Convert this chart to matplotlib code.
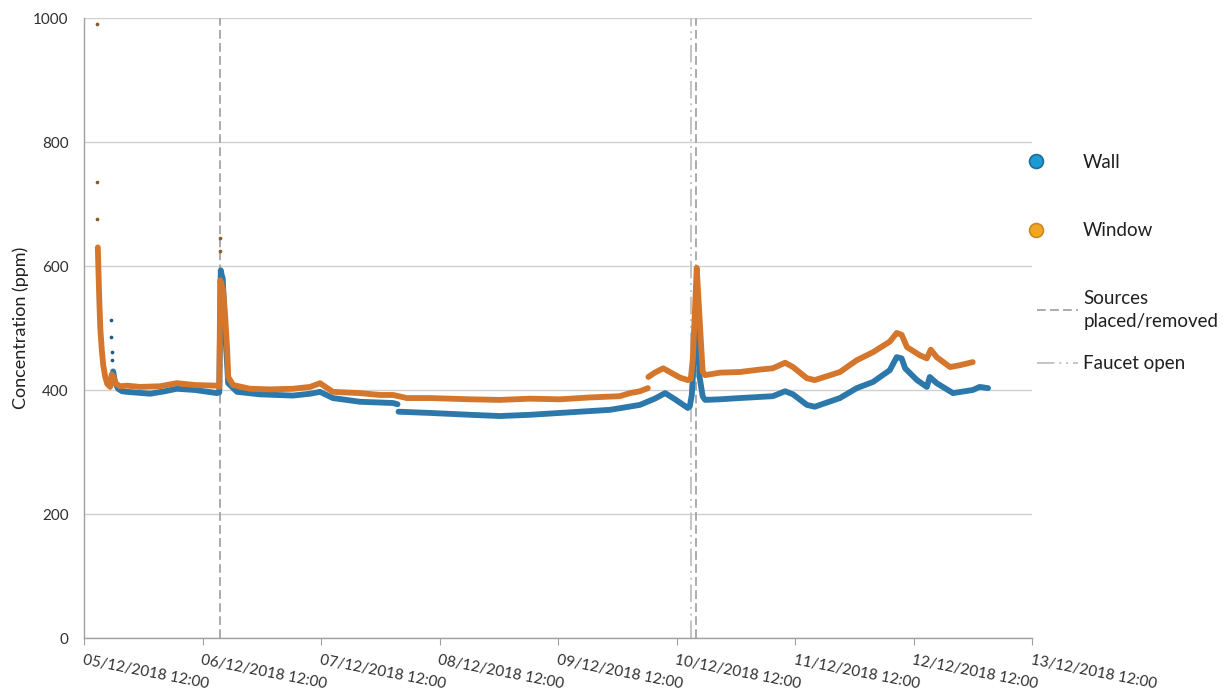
import numpy as np
import pandas as pd
import matplotlib
matplotlib.use("Agg")
import matplotlib.pyplot as plt
import matplotlib.dates as mdates
from matplotlib.lines import Line2D

plt.rcParams["font.family"] = ["Lato", "DejaVu Sans"]

START = pd.Timestamp("2018-12-05 12:00")

# Wall sensor: hours since start, concentration (ppm); NaN marks a logging gap
wall_hours = [5.9, 6.3, 6.9, 7.7, 8.7, 13.4, 16.4, 18.8, 22.5, 26.9, 27.4,
              27.7, 27.9, 28.1, 28.6, 29.0, 29.2, 31.0, 35.6, 42.3, 45.8,
              47.8, 50.4, 55.9, 62.6, 63.5, 63.6, 63.7, 70.1, 78.2, 84.2,
              90.3, 96.4, 106.5, 112.6, 115.6, 117.7, 119.7, 122.3, 122.7,
              123.1, 123.3, 123.7, 124.1, 124.3, 124.7, 125.3, 125.8, 128.8,
              132.8, 139.5, 142.0, 143.6, 146.4, 148.0, 153.1, 156.5, 159.8,
              163.2, 164.6, 165.6, 166.3, 168.7, 170.7, 171.3, 172.7, 176.0,
              180.0, 181.4, 183.1]
wall_ppm = [430, 412, 402, 398, 397, 394, 398, 402, 400, 395, 396,
            593, 585, 580, 492, 440, 411, 397, 393, 391, 394,
            397, 387, 381, 379, 377, np.nan, 365, 363, 360, 358,
            360, 363, 368, 376, 386, 395, 385, 371, 374,
            392, 420, 500, 545, 500, 420, 390, 384, 385,
            387, 390, 398, 393, 376, 373, 387, 403, 413,
            432, 453, 451, 435, 416, 405, 421, 411, 395,
            400, 405, 403]
# isolated readings during fast rises
wall_dot_hours = [5.5, 5.5, 5.6, 5.6, 27.5, 27.5, 27.5, 27.5]
wall_dot_ppm = [513, 485, 461, 448, 415, 440, 465, 490]

# Window sensor
window_hours = [2.8, 2.9, 3.1, 3.3, 3.6, 3.9, 4.3, 4.7, 5.3, 5.6, 5.9, 6.5,
                7.3, 8.7, 11.3, 15.4, 18.8, 22.5, 26.9, 27.4, 27.6, 28.2,
                28.6, 29.0, 29.2, 30.2, 33.6, 37.7, 42.3, 45.8, 47.8, 50.4,
                55.9, 59.9, 62.6, 65.4, 70.1, 78.2, 84.2, 90.3, 96.4, 102.5,
                108.5, 110.6, 112.6, 114.2, 114.25, 114.3, 115.6, 117.3, 119.1,
                120.7, 122.3, 122.9, 123.3, 123.7, 124.1, 124.5, 125.0, 125.3,
                125.8, 128.8, 132.8, 136.9, 139.5, 142.0, 143.6, 146.4, 148.0,
                153.1, 156.5, 159.8, 163.2, 164.6, 165.6, 166.7, 169.3, 170.7,
                171.5, 172.7, 175.4, 177.4, 180.0]
window_ppm = [630, 600, 545, 500, 465, 440, 421, 410, 405, 425, 422, 410,
              406, 407, 405, 406, 411, 408, 407, 405, 577, 560,
              518, 465, 421, 408, 402, 401, 402, 405, 411, 397,
              395, 392, 392, 387, 387, 385, 384, 386, 385, 388,
              390, 395, 398, 403, np.nan, 421, 428, 435, 427,
              420, 416, 418, 450, 520, 597, 540, 470, 430,
              424, 428, 429, 433, 435, 444, 437, 419, 416,
              429, 448, 461, 478, 492, 489, 469, 456, 451,
              465, 453, 437, 440, 445]
window_dot_hours = [2.6, 2.7, 2.7, 27.5, 27.6]
window_dot_ppm = [990, 735, 676, 645, 625]

# Event markers (hours since start)
source_hours = [27.5, 124.05]
faucet_hours = [122.9]

tick_start = "2018-12-05 12:00"
tick_end = "2018-12-13 12:00"


def to_time(hours):
    return START + pd.to_timedelta(np.asarray(hours, dtype=float), unit="h")


WALL_C = "#2c78ab"
WINDOW_C = "#d4772c"
EVENT_C = "#ababab"
FAUCET_C = "#c4c4c4"
SRC_DASH = (4.5, 2.2)
FAUCET_DASH = (9, 2.5, 1, 2.5, 1, 2.5)

fig = plt.figure(figsize=(12.27, 6.95), dpi=100)
ax = fig.add_axes([84 / 1227, 1 - 638 / 695, (1032 - 84) / 1227, (638 - 18) / 695])

ax.set_ylim(0, 1000)
ax.set_xlim(pd.Timestamp(tick_start), pd.Timestamp(tick_end))
ax.set_yticks([0, 200, 400, 600, 800, 1000])
ax.yaxis.grid(True, color="#d0d0d0", lw=1.0)
ax.set_axisbelow(True)

for h in source_hours:
    ax.axvline(to_time([h])[0], color=EVENT_C, lw=1.4, dashes=SRC_DASH, zorder=1)
for h in faucet_hours:
    ax.axvline(to_time([h])[0], color=FAUCET_C, lw=1.4, dashes=FAUCET_DASH, zorder=1)

ax.plot(to_time(wall_hours), wall_ppm, color=WALL_C, lw=4.2,
        solid_joinstyle="round", solid_capstyle="round", zorder=3)
ax.scatter(to_time(wall_dot_hours), wall_dot_ppm, s=7, color="#1f5a85", zorder=3, lw=0)
ax.plot(to_time(window_hours), window_ppm, color=WINDOW_C, lw=4.2,
        solid_joinstyle="round", solid_capstyle="round", zorder=4)
ax.scatter(to_time(window_dot_hours), window_dot_ppm, s=7, color="#8a5a2a", zorder=4, lw=0)

ax.xaxis.set_major_locator(mdates.HourLocator(byhour=[12]))
ax.xaxis.set_major_formatter(mdates.DateFormatter("%d/%m/%Y %H:%M"))
for lbl in ax.get_xticklabels():
    lbl.set_rotation(-11)
    lbl.set_ha("left")
    lbl.set_va("top")
    lbl.set_rotation_mode("anchor")
    lbl.set_fontsize(11)
    lbl.set_color("#303030")

ax.tick_params(axis="x", length=5, color="#a0a0a0", pad=6)
ax.tick_params(axis="y", length=0, labelsize=11, labelcolor="#303030", pad=11)

for side in ("top", "right"):
    ax.spines[side].set_visible(False)
for side in ("left", "bottom"):
    ax.spines[side].set_color("#a0a0a0")
    ax.spines[side].set_linewidth(1.0)

ax.set_ylabel("Concentration (ppm)", fontsize=13, color="#202020", labelpad=3)

marker_handles = [
    Line2D([], [], ls="none", marker="o", ms=10, mfc="#1b9ad4", mec="#1f6d96", mew=1.2),
    Line2D([], [], ls="none", marker="o", ms=10, mfc="#f2a424", mec="#c98a1e", mew=1.2),
]
line_handles = [
    Line2D([], [], color=EVENT_C, lw=1.4, dashes=SRC_DASH),
    Line2D([], [], color=FAUCET_C, lw=1.4, dashes=FAUCET_DASH),
]

common = dict(frameon=False, fontsize=13.5, borderaxespad=0, borderpad=0)
leg1 = fig.legend(marker_handles, ["Wall", "Window"], loc="center left",
                  bbox_to_anchor=(1030.5 / 1227, 1 - 196.5 / 695), labelspacing=2.75,
                  handlelength=0.6, handletextpad=2.2, **common)
leg2 = fig.legend(line_handles, ["Sources\nplaced/removed", "Faucet open"], loc="center left",
                  bbox_to_anchor=(1037 / 1227, 1 - 331 / 695), labelspacing=1.35,
                  handlelength=2.2, handletextpad=0.27, **common)
for leg in (leg1, leg2):
    for t in leg.get_texts():
        t.set_color("#202020")
        t.set_linespacing(1.45)

fig.savefig("out.png", dpi=100)
